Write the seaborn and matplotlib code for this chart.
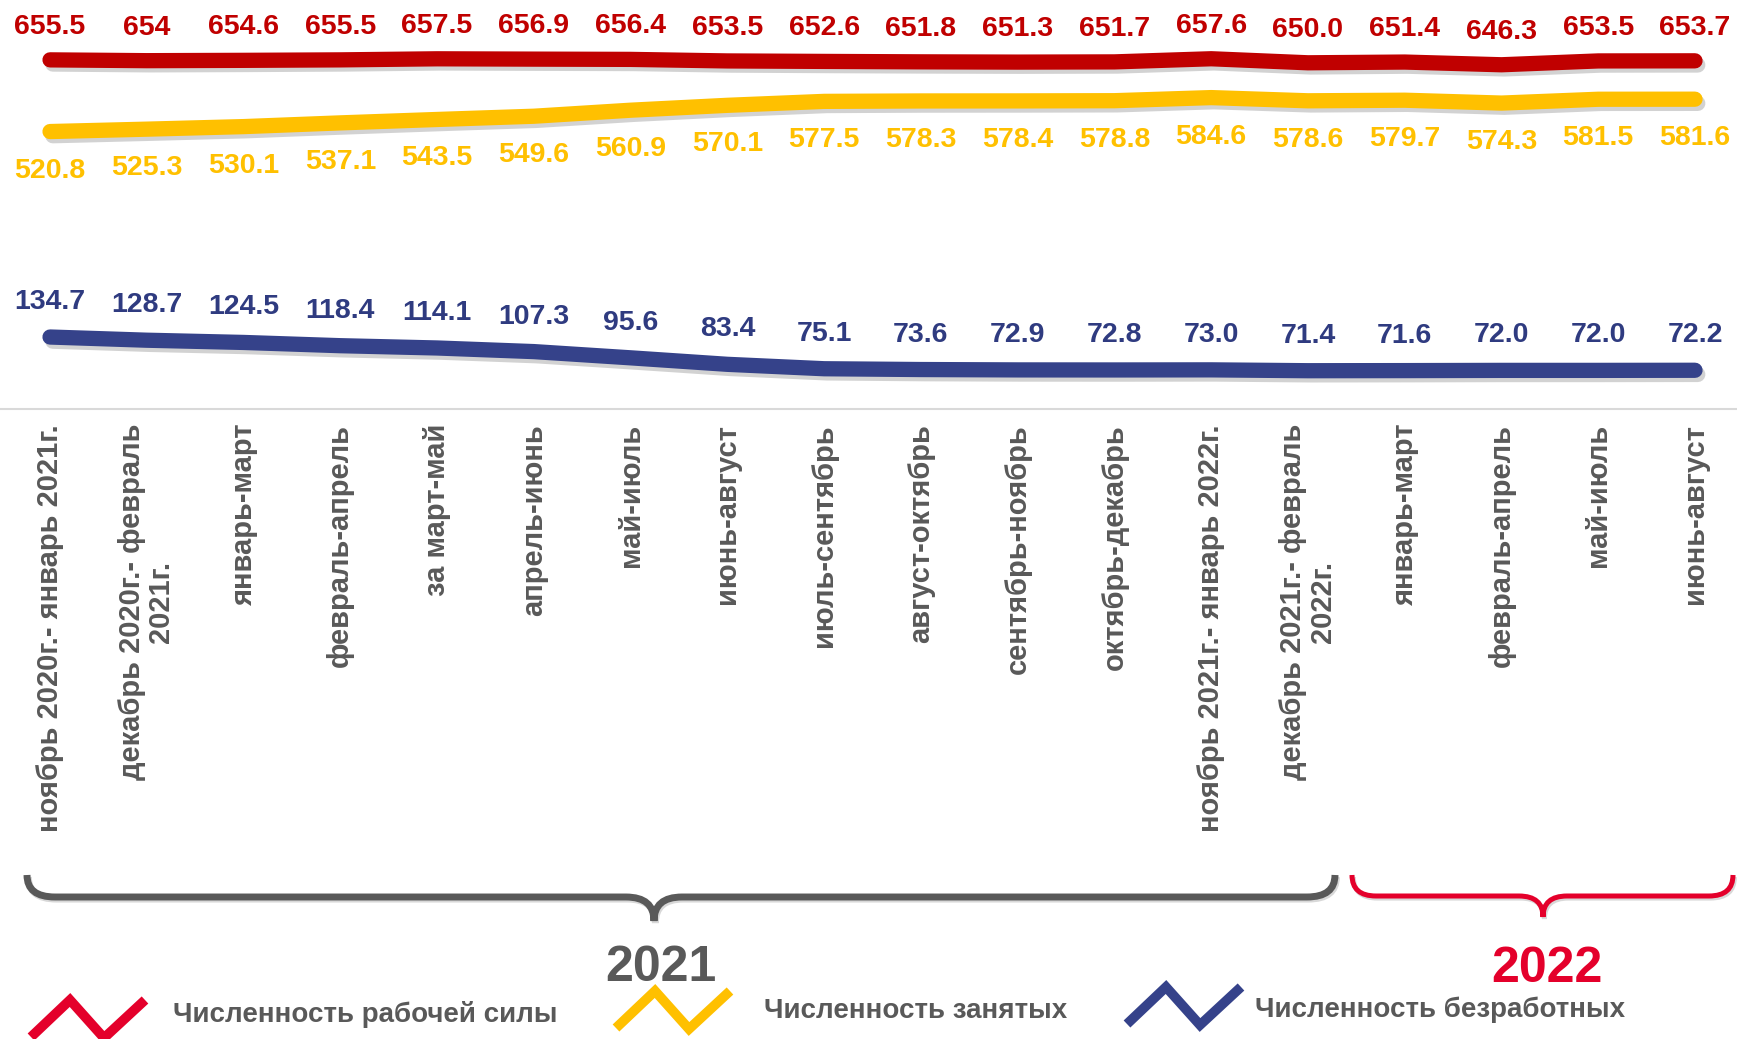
import matplotlib
matplotlib.use("Agg")
import matplotlib.pyplot as plt
import matplotlib.patheffects as pe
from matplotlib.path import Path
from matplotlib.patches import PathPatch
import pandas as pd
import seaborn as sns

sns.set_style("white")
plt.rcParams["font.family"] = ["Liberation Sans", "DejaVu Sans"]

# Periods (x categories)
periods = [
    "ноябрь 2020г.- январь 2021г.",
    "декабрь 2020г.- февраль\n2021г.",
    "январь-март",
    "февраль-апрель",
    "за март-май",
    "апрель-июнь",
    "май-июль",
    "июнь-август",
    "июль-сентябрь",
    "август-октябрь",
    "сентябрь-ноябрь",
    "октябрь-декабрь",
    "ноябрь 2021г.- январь 2022г.",
    "декабрь 2021г.- февраль\n2022г.",
    "январь-март",
    "февраль-апрель",
    "май-июль",
    "июнь-август",
]

# Values as printed on the chart (thousand people)
labor_force = ["655.5", "654", "654.6", "655.5", "657.5", "656.9", "656.4", "653.5", "652.6",
               "651.8", "651.3", "651.7", "657.6", "650.0", "651.4", "646.3", "653.5", "653.7"]
employed = ["520.8", "525.3", "530.1", "537.1", "543.5", "549.6", "560.9", "570.1", "577.5",
            "578.3", "578.4", "578.8", "584.6", "578.6", "579.7", "574.3", "581.5", "581.6"]
unemployed = ["134.7", "128.7", "124.5", "118.4", "114.1", "107.3", "95.6", "83.4", "75.1",
              "73.6", "72.9", "72.8", "73.0", "71.4", "71.6", "72.0", "72.0", "72.2"]

series_names = ["Численность рабочей силы", "Численность занятых", "Численность безработных"]
series_values = [labor_force, employed, unemployed]
line_colors = ["#C00000", "#FFC000", "#35428A"]
label_colors = ["#C00000", "#FFC000", "#2F3B80"]
icon_colors = ["#E4002B", "#FFC000", "#35428A"]
label_offsets = [33, -39, 35]  # pixels, above (+) or below (-) the line

years = ["2021", "2022"]
year_colors = ["#595959", "#E4002B"]

GRAY = "#595959"


def brace(ax, x0, x1, xm, ytop, yh, ytip, r, color, lw):
    verts = [(x0, ytop), (x0, yh), (x0 + r, yh),
             (xm - r, yh), (xm, yh), (xm, ytip),
             (xm, yh), (xm + r, yh),
             (x1 - r, yh), (x1, yh), (x1, ytop)]
    codes = [Path.MOVETO, Path.CURVE3, Path.CURVE3,
             Path.LINETO, Path.CURVE3, Path.CURVE3,
             Path.CURVE3, Path.CURVE3,
             Path.LINETO, Path.CURVE3, Path.CURVE3]
    patch = PathPatch(Path(verts, codes), fill=False, edgecolor=color, lw=lw,
                      capstyle="butt")
    patch.set_path_effects([pe.SimpleLineShadow(offset=(1, -1.5), shadow_color="gray", alpha=0.3),
                            pe.Normal()])
    ax.add_patch(patch)


def main():
    rows = []
    for name, vals in zip(series_names, series_values):
        for i, v in enumerate(vals):
            rows.append({"pos": i, "value": float(v), "series": name})
    df = pd.DataFrame(rows)

    fig = plt.figure(figsize=(17.37, 10.39), dpi=100)
    ax = fig.add_axes([0, 1 - 408.7 / 1039, 1, 408.7 / 1039])

    sns.lineplot(data=df, x="pos", y="value", hue="series", hue_order=series_names,
                 palette=line_colors, linewidth=11, legend=False, sort=False, ax=ax)

    for line in ax.lines:
        line.set_solid_capstyle("round")
        line.set_solid_joinstyle("round")
        line.set_path_effects([
            pe.SimpleLineShadow(offset=(2, -3), shadow_color="#808080", alpha=0.35),
            pe.Normal(),
        ])

    # Data labels
    for vals, color, off in zip(series_values, label_colors, label_offsets):
        for i, v in enumerate(vals):
            ax.annotate(v, (i, float(v)), xytext=(0, off), textcoords="offset pixels",
                        ha="center", va="center", fontsize=20.5, fontweight="bold",
                        color=color)

    ax.set_xlim(-0.517, 17.434)
    ax.set_ylim(0, 768)
    ax.set_xticks(range(len(periods)))
    ax.set_xticklabels(periods, rotation=90, ha="center", va="top", linespacing=1.05,
                       multialignment="center", fontsize=21, fontweight="bold", color=GRAY)
    ax.tick_params(axis="x", length=0, pad=11)
    ax.set_yticks([])
    ax.set_xlabel(None)
    ax.set_ylabel(None)
    for side in ("top", "left", "right"):
        ax.spines[side].set_visible(False)
    ax.spines["bottom"].set_color("#D9D9D9")
    ax.spines["bottom"].set_linewidth(1.5)
    ax.patch.set_alpha(0)

    # Overlay in pixel coordinates for braces, years and legend
    ov = fig.add_axes([0, 0, 1, 1])
    ov.set_xlim(0, 1737)
    ov.set_ylim(1039, 0)
    ov.set_axis_off()
    ov.patch.set_alpha(0)

    brace(ov, 27, 1335, 654, 875, 897, 921, 28, year_colors[0], 5)
    brace(ov, 1352, 1733, 1543, 875, 896, 917, 24, year_colors[1], 3.6)

    ov.text(661, 968, years[0], ha="center", va="center", fontsize=36,
            fontweight="bold", color=year_colors[0])
    ov.text(1547, 969, years[1], ha="center", va="center", fontsize=36,
            fontweight="bold", color=year_colors[1])

    # Legend: zigzag icons + text
    icon_shape = [(0, 37), (39, 0), (73, 38), (114, 0)]
    icon_anchor = [(31, 1000), (616, 991), (1127, 987)]
    text_pos = [(173, 1014), (764, 1011), (1255, 1010)]
    for name, color, (ax0, ay0), (tx, ty) in zip(series_names, icon_colors, icon_anchor, text_pos):
        ov.plot([ax0 + dx for dx, dy in icon_shape], [ay0 + dy for dx, dy in icon_shape],
                color=color, lw=7, solid_joinstyle="miter", solid_capstyle="butt")
        ov.text(tx, ty, name, ha="left", va="center", fontsize=20,
                fontweight="bold", color=GRAY)

    fig.savefig("out.png", dpi=100)


if __name__ == "__main__":
    main()
